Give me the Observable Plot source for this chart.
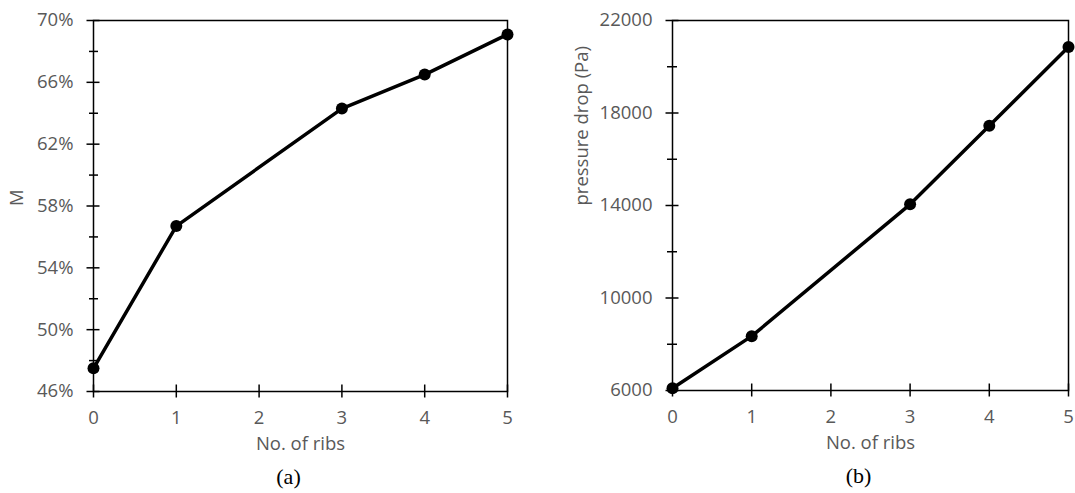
<!DOCTYPE html>
<html>
<head>
<meta charset="utf-8">
<script src="https://cdn.jsdelivr.net/npm/d3@7"></script>
<script src="https://cdn.jsdelivr.net/npm/@observablehq/plot@0.6"></script>
<style>
  html, body { margin: 0; padding: 0; background: #fff; }
  #chart { position: relative; width: 1075px; height: 493px; overflow: hidden; }
  .panel { position: absolute; top: 0; }
  .panel svg { overflow: visible; }
</style>
</head>
<body>
<div id="chart">
  <div class="panel" id="panelA" style="left:0px"></div>
  <div class="panel" id="panelB" style="left:540px"></div>
</div>
<script>
// Number of ribs tested
const ribs = [0, 1, 3, 4, 5];
// Panel (a): M, in percent
const mPercent = [47.5, 56.7, 64.3, 66.5, 69.1];
// Panel (b): pressure drop in Pa
const pressureDrop = [6100, 8350, 14050, 17450, 20850];

// Axis ticks
const xTicks = [0, 1, 2, 3, 4, 5];
const mTicks = [46, 50, 54, 58, 62, 66, 70];
const mMinorTicks = [48, 52, 56, 60, 64, 68];
const pTicks = [6000, 10000, 14000, 18000, 22000];
const pMinorTicks = [8000, 12000, 16000, 20000];

const labelGray = "#595959";
const sansFont = "'Open Sans', 'Noto Sans', sans-serif";
const serifFont = "'Liberation Serif', 'DejaVu Serif', serif";
const fs = 18.5;

function panel({values, yDomain, majorTicks, minorTicks, minorLen, minorDx, tickFormat, yTitle, yTitleDx, caption, width, marginLeft, marginRight, marginBottom}) {
  const rows = ribs.map((r, i) => ({ribs: r, value: values[i]}));
  return Plot.plot({
    width,
    height: 493,
    marginLeft,
    marginRight,
    marginTop: 20,
    marginBottom,
    style: {fontFamily: sansFont, fontSize: fs + "px", background: "transparent", overflow: "visible"},
    x: {domain: [0, 5]},
    y: {domain: yDomain},
    marks: [
      Plot.frame({stroke: "black", strokeWidth: 1.5}),
      // crossing major ticks on the y axis
      Plot.axisY({ticks: majorTicks, tickSize: 13, dx: 6.5, fill: "none", stroke: "black", strokeWidth: 1.5, label: null}),
      // crossing minor ticks on the y axis
      Plot.axisY({ticks: minorTicks, tickSize: minorLen, dx: minorDx, fill: "none", stroke: "black", strokeWidth: 1.5, label: null}),
      Plot.axisY({ticks: majorTicks, tickSize: 0, tickPadding: 20, tickFormat, fill: labelGray, fontSize: fs, label: null}),
      // crossing ticks on the x axis
      Plot.axisX({ticks: xTicks, tickSize: 13, dy: -6.5, fill: "none", stroke: "black", strokeWidth: 1.5, label: null}),
      Plot.axisX({ticks: xTicks, tickSize: 0, tickPadding: 19, tickFormat: d3.format("d"), fill: labelGray, fontSize: fs, label: null}),
      Plot.text([yTitle], {text: d => d, frameAnchor: "left", dx: yTitleDx, rotate: -90, fill: labelGray, fontSize: fs}),
      Plot.text(["No. of ribs"], {text: d => d, frameAnchor: "bottom", dy: 58, fill: labelGray, fontSize: fs}),
      Plot.text([caption], {text: d => d, frameAnchor: "bottom", dy: 92, dx: -12, fill: "black", fontSize: 22, fontFamily: serifFont}),
      Plot.line(rows, {x: "ribs", y: "value", stroke: "black", strokeWidth: 3.5}),
      Plot.dot(rows, {x: "ribs", y: "value", r: 6, fill: "black", stroke: "none"})
    ]
  });
}

document.getElementById("panelA").append(panel({
  values: mPercent,
  yDomain: [46, 70],
  majorTicks: mTicks,
  minorTicks: mMinorTicks,
  minorLen: 9,
  minorDx: 5,
  tickFormat: d => d + "%",
  yTitle: "M",
  yTitleDx: -76,
  caption: "(a)",
  width: 520,
  marginLeft: 93,
  marginRight: 13,
  marginBottom: 102
}));

document.getElementById("panelB").append(panel({
  values: pressureDrop,
  yDomain: [6000, 22000],
  majorTicks: pTicks,
  minorTicks: pMinorTicks,
  minorLen: 10,
  minorDx: 5,
  tickFormat: d3.format("d"),
  yTitle: "pressure drop (Pa)",
  yTitleDx: -90,
  caption: "(b)",
  width: 535,
  marginLeft: 132,
  marginRight: 7,
  marginBottom: 103
}));
</script>
</body>
</html>
